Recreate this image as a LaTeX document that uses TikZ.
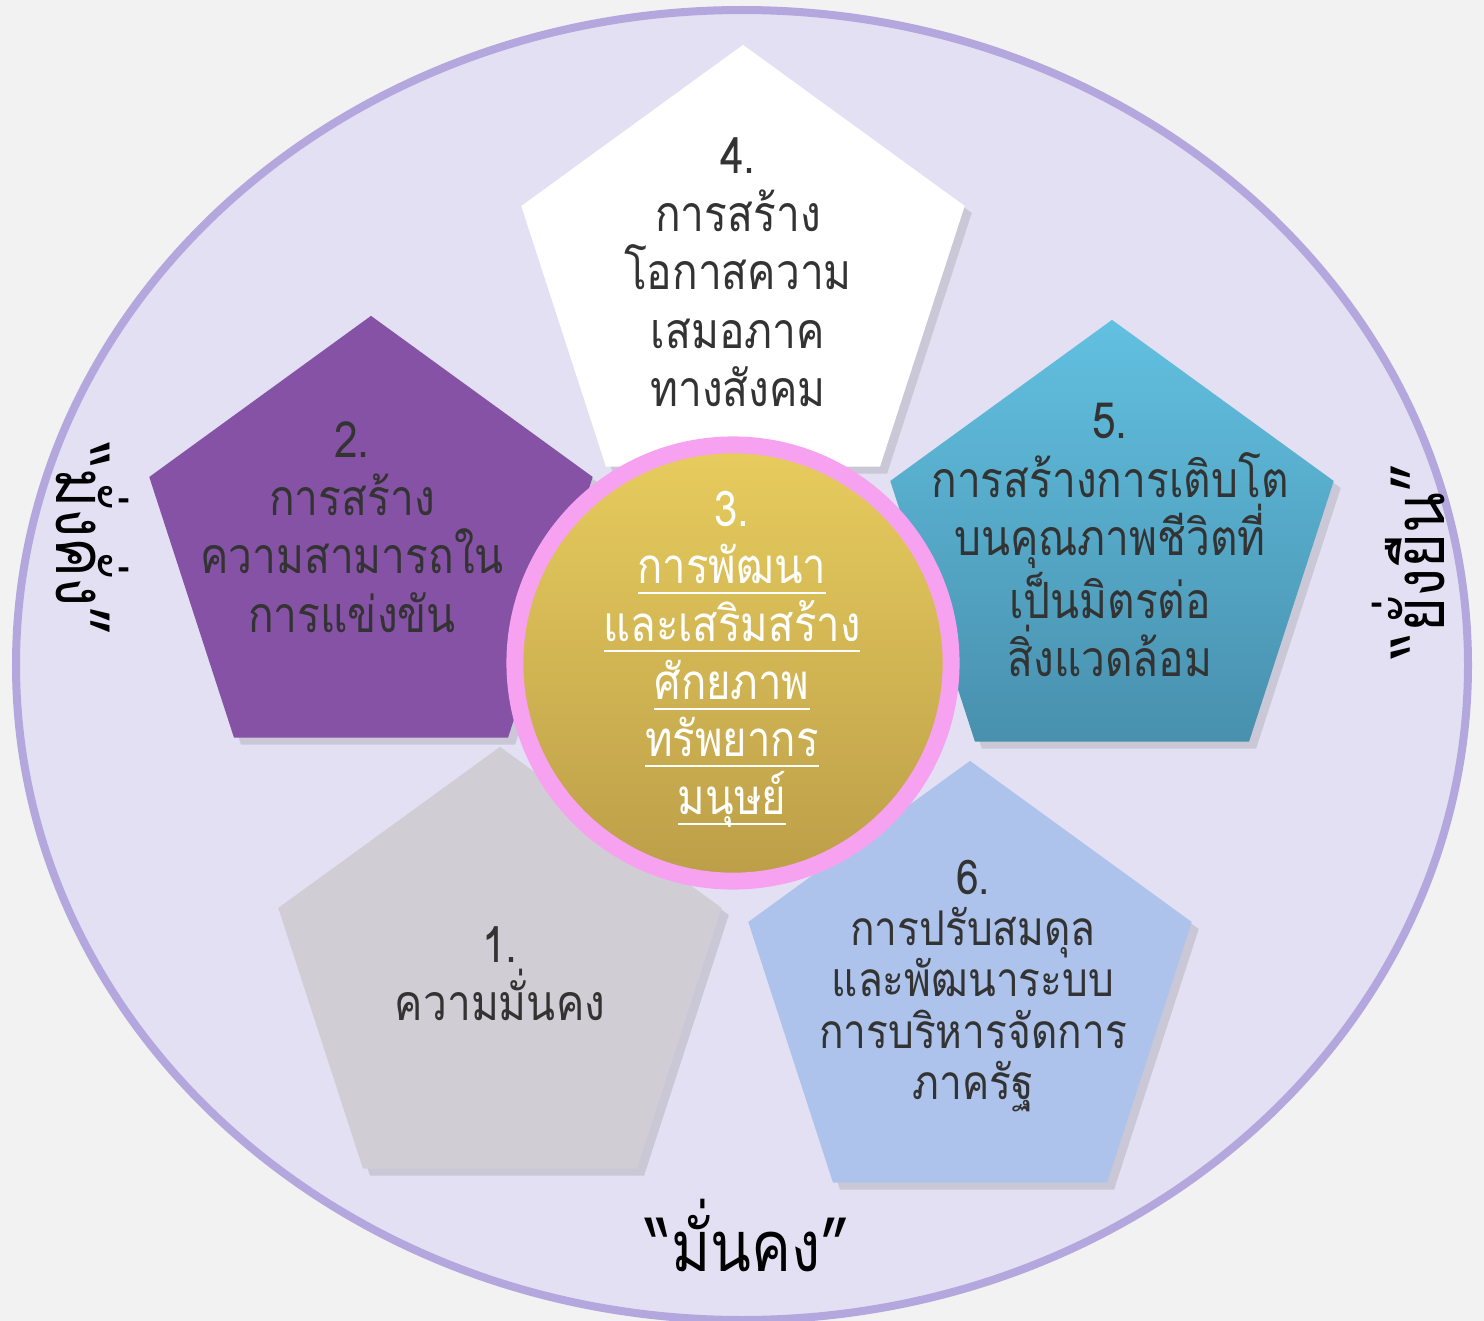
\documentclass[tikz,border=0pt]{standalone}
\usepackage{fontspec}
\newfontfamily\thaifont[Script=Thai, FakeStretch=0.85]{Loma}
\usetikzlibrary{shapes.geometric,shadows}

\definecolor{pagebg}{HTML}{F2F2F2}
\definecolor{ovalfill}{HTML}{E3E0F3}
\definecolor{ovalline}{HTML}{B3A7DD}
\definecolor{petalgray}{HTML}{D0CED4}
\definecolor{petalpurple}{HTML}{8652A5}
\definecolor{petaltealtop}{HTML}{62C0E0}
\definecolor{petaltealbot}{HTML}{4890AE}
\definecolor{petalblue}{HTML}{ADC3EC}
\definecolor{hubgoldtop}{HTML}{E7CC5E}
\definecolor{hubgoldbot}{HTML}{BC9E48}
\definecolor{hubring}{HTML}{F7A2F1}
\definecolor{inktext}{HTML}{333333}

\newcommand{\hubul}[1]{\setbox0\hbox{#1}\rlap{\rule[-3pt]{\wd0}{0.6pt}}\box0}

\tikzstyle{petal} = [regular polygon, regular polygon sides=5, minimum size=4.66cm, inner sep=0pt, outer sep=0pt, drop shadow={shadow xshift=2pt, shadow yshift=-2pt, opacity=.25}]
\tikzstyle{petaltext} = [align=center, text=inktext, font=\thaifont\fontsize{14.2}{16.6}\selectfont]
\tikzstyle{outerword} = [text=black, font=\thaifont\fontsize{20}{22}\selectfont]

\begin{document}
\begin{tikzpicture}[x=0.01cm, y=-0.01cm]
       \useasboundingbox (0,0) rectangle (1484,1321);
       \fill[pagebg] (0,0) rectangle (1484,1321);
       \draw[ovalline, line width=0.8mm, fill=ovalfill] (742,665) ellipse [x radius=726, y radius=655];

       % five petals
       \node[petal, fill=petalgray] (p1) at (500,980) {};
       \node[petal, fill=petalpurple] (p2) at (371,549) {};
       \node[petal, fill=white] (p4) at (743,278) {};
       \node[petal, top color=petaltealtop, bottom color=petaltealbot] (p5) at (1112,553) {};
       \node[petal, fill=petalblue] (p6) at (970,994) {};

       % hub
       \node[circle, minimum size=4.36cm, inner sep=0pt, draw=hubring, line width=4.8pt, top color=hubgoldtop, bottom color=hubgoldbot] (hub) at (733,663) {};

       \node[petaltext] (t1) at (500,974) {1.\\ความมั่นคง};
       \node[petaltext] (t2) at (352,527) {2.\\การสร้าง\\ความสามารถใน\\การแข่งขัน};
       \node[petaltext] (t4) at (738,272) {4.\\การสร้าง\\โอกาสความ\\เสมอภาค\\ทางสังคม};
       \node[petaltext] (t5) at (1110,540) {5.\\การสร้างการเติบโต\\บนคุณภาพชีวิตที่\\เป็นมิตรต่อ\\สิ่งแวดล้อม};
       \node[petaltext, font=\thaifont\fontsize{13.6}{14.6}\selectfont] (t6) at (973,986) {6.\\การปรับสมดุล\\และพัฒนาระบบ\\การบริหารจัดการ\\ภาครัฐ};
       \node[petaltext, text=white, font=\thaifont\fontsize{14}{16.4}\selectfont] (t3) at (732,659) {3.\\\hubul{การพัฒนา}\\\hubul{และเสริมสร้าง}\\\hubul{ศักยภาพ}\\\hubul{ทรัพยากร}\\\hubul{มนุษย์}};

       \node[outerword, rotate=-90] (wealth) at (92,540) {“มั่งคั่ง”};
       \node[outerword, rotate=90] (sustain) at (1408,560) {“ยั่งยืน”};
       \node[outerword] (secure) at (748,1235) {“มั่นคง”};
     \end{tikzpicture}
\end{document}
